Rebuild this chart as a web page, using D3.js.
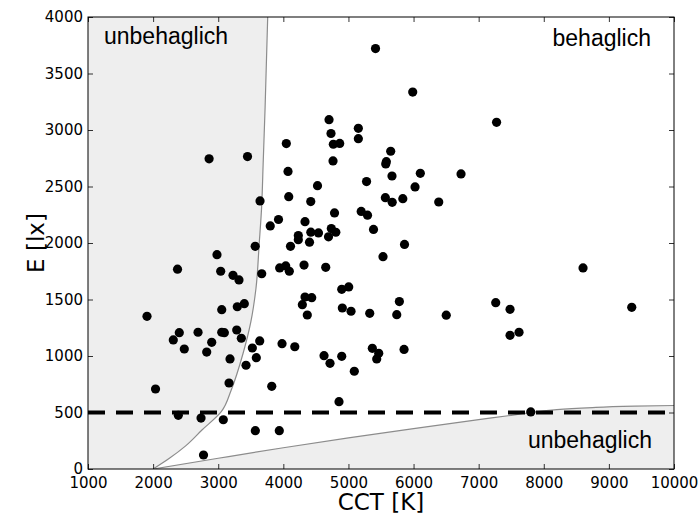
<!DOCTYPE html>
<html>
<head>
<meta charset="utf-8">
<script src="https://cdn.jsdelivr.net/npm/d3@7"></script>
<style>
    body { margin: 0; background: #fff; }
    svg { display: block; }
</style>
</head>
<body>
<div id="chart"></div>
<script>
// measured points: colour temperature [K] and illuminance [lx]
var cct = [2860, 3450, 4046, 4072, 5416, 5987, 4702, 4732, 5152, 5152,
           4768, 4866, 4763, 5649, 5582, 5573, 5669, 6104, 6729, 4525,
           5278, 6023, 7275, 5567, 5672, 5835, 6387, 5196, 5293, 5385,
           5861, 5531, 3642, 4083, 4421, 4786, 3799, 3926, 4333, 4230,
           4230, 4422, 4540, 4402, 4694, 4737, 4806, 3568, 4110, 2981,
           2375, 3038, 3227, 3319, 3668, 3944, 4037, 4092, 4318, 4651,
           3054, 3293, 3401, 1906, 4897, 5004, 4333, 4436, 4292, 4368,
           4906, 5040, 5327, 5782, 5742, 6502, 7262, 7482, 8603, 9351,
           7482, 7620, 2402, 2310, 2479, 2690, 2900, 2823, 3054, 3094,
           3284, 3355, 3181, 3524, 3637, 3585, 3427, 3980, 4176, 3166,
           3822, 2037, 2387, 2736, 3078, 3570, 3938, 2774, 4625, 4717,
           4897, 5090, 5367, 5465, 5434, 5854, 4855, 7800];
var lux = [2745, 2765, 2880, 2633, 3721, 3336, 3091, 2969, 3015, 2923,
           2874, 2881, 2726, 2812, 2720, 2699, 2593, 2617, 2611, 2507,
           2544, 2496, 3068, 2401, 2360, 2392, 2363, 2279, 2246, 2120,
           1987, 1879, 2372, 2410, 2367, 2266, 2151, 2208, 2189, 2066,
           2029, 2096, 2089, 2007, 2055, 2128, 2095, 1971, 1971, 1897,
           1768, 1750, 1714, 1673, 1728, 1779, 1797, 1750, 1805, 1785,
           1410, 1436, 1463, 1351, 1590, 1611, 1522, 1516, 1454, 1363,
           1425, 1396, 1378, 1482, 1366, 1361, 1472, 1413, 1779, 1431,
           1183, 1210, 1206, 1142, 1062, 1210, 1121, 1035, 1210, 1206,
           1230, 1157, 974, 1071, 1133, 985, 918, 1109, 1082, 761,
           732, 708, 475, 451, 436, 339, 339, 124, 1003, 935,
           997, 865, 1068, 1024, 974, 1058, 596, 505];

// comfort boundaries (Kruithof)
var upperCct = [2000, 2250, 2500, 2750, 3050, 3200, 3380, 3500, 3580, 3630, 3665, 3690, 3720, 3760];
var upperLux = [0, 95, 205, 345, 510, 700, 1020, 1300, 1600, 2000, 2300, 2700, 3200, 4000];
var lowerCct = [2000, 3000, 4000, 5000, 6000, 7000, 7500, 7800, 8200, 8800, 9400, 10000];
var lowerLux = [0, 95, 188, 275, 358, 437, 475, 500, 525, 545, 556, 562];

var xTicks = [1000, 2000, 3000, 4000, 5000, 6000, 7000, 8000, 9000, 10000];
var yTicks = [0, 500, 1000, 1500, 2000, 2500, 3000, 3500, 4000];
var minLux = 500;

var width = 700, height = 515;
var margin = {top: 17, right: 26, bottom: 46, left: 88};

var x = d3.scaleLinear().domain([1000, 10000]).range([margin.left, width - margin.right]);
var y = d3.scaleLinear().domain([0, 4000]).range([height - margin.bottom, margin.top]);

var svg = d3.select('#chart').append('svg')
        .attr('width', width)
        .attr('height', height);

svg.append('clipPath').attr('id', 'plotClip')
        .append('rect')
        .attr('x', x(1000)).attr('y', y(4000))
        .attr('width', x(10000) - x(1000))
        .attr('height', y(0) - y(4000));

var plot = svg.append('g').attr('clip-path', 'url(#plotClip)');

var upper = upperCct.map(function (c, i) { return [c, upperLux[i]]; });
var lower = lowerCct.map(function (c, i) { return [c, lowerLux[i]]; });

var lineUp = d3.line()
        .x(function (d) { return x(d[0]); })
        .y(function (d) { return y(d[1]); })
        .curve(d3.curveMonotoneY);
var lineLow = d3.line()
        .x(function (d) { return x(d[0]); })
        .y(function (d) { return y(d[1]); })
        .curve(d3.curveMonotoneX);

// shaded uncomfortable zones
plot.append('path')
        .attr('d', 'M' + x(1000) + ',' + y(0) + lineUp(upper).replace('M', 'L') +
                'L' + x(1000) + ',' + y(4000) + 'Z')
        .attr('fill', '#eeeeee');
plot.append('path')
        .attr('d', lineLow(lower) + 'L' + x(10000) + ',' + y(0) + 'Z')
        .attr('fill', '#eeeeee');

plot.append('path').attr('d', lineUp(upper))
        .attr('fill', 'none').attr('stroke', '#8c8c8c').attr('stroke-width', 1.2);
plot.append('path').attr('d', lineLow(lower))
        .attr('fill', 'none').attr('stroke', '#8c8c8c').attr('stroke-width', 1.2);

// minimum illuminance
plot.append('line')
        .attr('x1', x(1000)).attr('x2', x(10000))
        .attr('y1', y(minLux)).attr('y2', y(minLux))
        .attr('stroke', '#000').attr('stroke-width', 4)
        .attr('stroke-dasharray', '17,11');

plot.selectAll('circle.pt')
        .data(d3.range(cct.length))
        .enter().append('circle')
        .attr('class', 'pt')
        .attr('cx', function (i) { return x(cct[i]); })
        .attr('cy', function (i) { return y(lux[i]); })
        .attr('r', 4.6)
        .attr('fill', '#000');

// axes with inward ticks on all sides
var tickFont = '"DejaVu Sans", sans-serif';
function styleAxis(g) {
    g.select('.domain').remove();
    g.selectAll('.tick line').attr('stroke', '#000').attr('stroke-width', 0.8);
    g.selectAll('.tick text').attr('font-family', tickFont).attr('font-size', '15px').attr('fill', '#000');
}

svg.append('g').attr('transform', 'translate(0,' + y(0) + ')')
        .call(d3.axisBottom(x).tickValues(xTicks).tickSizeInner(-5).tickPadding(8).tickFormat(d3.format('d')))
        .call(styleAxis);
svg.append('g').attr('transform', 'translate(0,' + y(4000) + ')')
        .call(d3.axisTop(x).tickValues(xTicks).tickSizeInner(-5).tickFormat(''))
        .call(styleAxis);
svg.append('g').attr('transform', 'translate(' + x(1000) + ',0)')
        .call(d3.axisLeft(y).tickValues(yTicks).tickSizeInner(-5).tickPadding(5).tickFormat(d3.format('d')))
        .call(styleAxis);
svg.append('g').attr('transform', 'translate(' + x(10000) + ',0)')
        .call(d3.axisRight(y).tickValues(yTicks).tickSizeInner(-5).tickFormat(''))
        .call(styleAxis);

svg.append('rect')
        .attr('x', x(1000)).attr('y', y(4000))
        .attr('width', x(10000) - x(1000))
        .attr('height', y(0) - y(4000))
        .attr('fill', 'none').attr('stroke', '#000').attr('stroke-width', 1);

// labels
svg.append('text')
        .attr('x', (x(1000) + x(10000)) / 2).attr('y', 510)
        .attr('text-anchor', 'middle')
        .attr('font-family', tickFont).attr('font-size', '23px')
        .text('CCT [K]');
svg.append('text')
        .attr('transform', 'translate(44,' + (y(0) + y(4000)) / 2 + ') rotate(-90)')
        .attr('text-anchor', 'middle')
        .attr('font-family', tickFont).attr('font-size', '23px')
        .text('E [lx]');

var noteFont = '"Liberation Sans", Arial, sans-serif';
svg.append('text').attr('x', 104).attr('y', 44)
        .attr('font-family', noteFont).attr('font-size', '23px')
        .text('unbehaglich');
svg.append('text').attr('x', 651).attr('y', 46)
        .attr('text-anchor', 'end')
        .attr('font-family', noteFont).attr('font-size', '23px')
        .text('behaglich');
svg.append('text').attr('x', 652).attr('y', 448)
        .attr('text-anchor', 'end')
        .attr('font-family', noteFont).attr('font-size', '23px')
        .text('unbehaglich');
</script>
</body>
</html>
